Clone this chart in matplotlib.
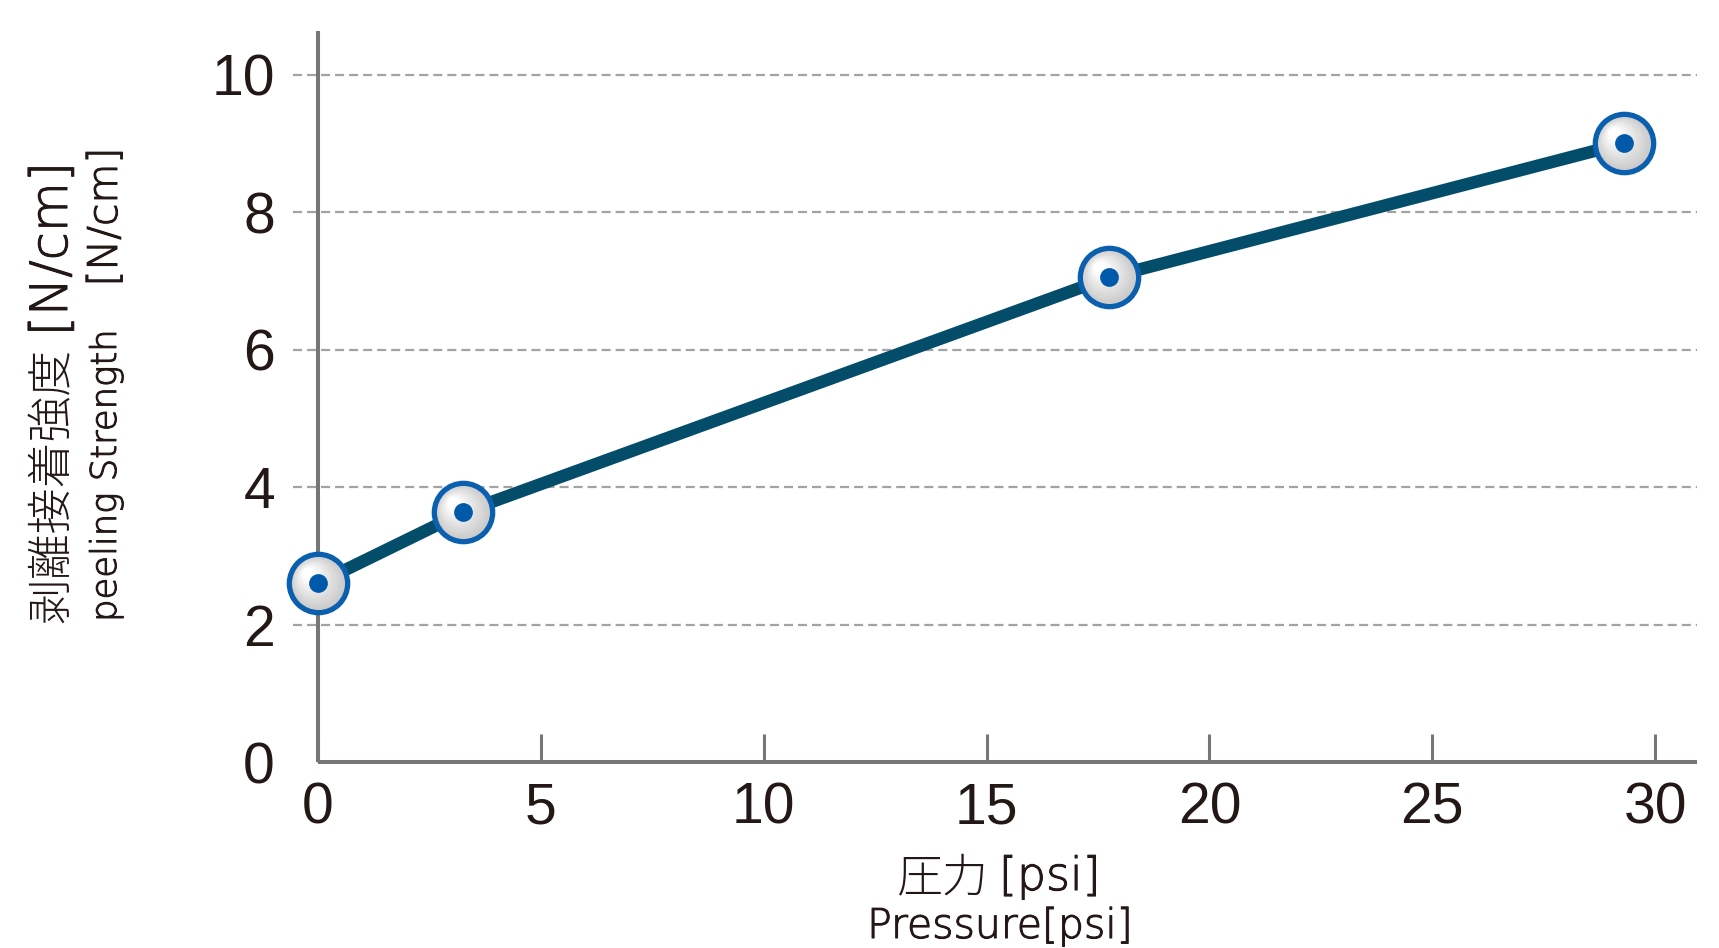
import matplotlib
matplotlib.use("Agg")
import matplotlib.pyplot as plt
import matplotlib.transforms as mtransforms
import matplotlib.patheffects as pe
import numpy as np

# ---- data ----
pressure_psi = [0, 3.25, 17.75, 29.3]
peel_strength = [2.6, 3.63, 7.05, 9.0]
x_ticks = [0, 5, 10, 15, 20, 25, 30]
y_ticks = [0, 2, 4, 6, 8, 10]
grid_levels = [2, 4, 6, 8, 10]
ylabel_jp = "剥離接着強度"
ylabel_en = "peeling Strength"
unit_y = "[N/cm]"
xlabel_jp = "圧力"
xlabel_en = "Pressure[psi]"
unit_x = "[psi]"

plt.rcParams['lines.scale_dashes'] = False

W, H = 1719, 948
fig = plt.figure(figsize=(W / 100, H / 100), dpi=100)
fig.patch.set_facecolor('white')

def fx(px):
    return px / W

def fy(py):
    return 1 - py / H

ax = fig.add_axes([fx(293), fy(762), fx(1697) - fx(293), fy(31) - fy(762)])
ax.set_xlim(-0.561, 30.94)
ax.set_ylim(0, 10.633)
ax.set_facecolor('none')

TXT = '#231815'
SPINE = '#767676'
LATIN = 'Liberation Sans'
WIDE = 'DejaVu Sans'
CJK = ['Noto Sans CJK JP', 'DejaVu Sans']
thin = [pe.withStroke(linewidth=0.75, foreground=TXT)]

# spines
for s in ['top', 'right']:
    ax.spines[s].set_visible(False)
ax.spines['left'].set_position(('data', 0))
ax.spines['left'].set_bounds(0, 10.633)
ax.spines['bottom'].set_bounds(0, 30.94)
for s in ['left', 'bottom']:
    ax.spines[s].set_color(SPINE)
    ax.spines[s].set_linewidth(2.9)
    ax.spines[s].set_capstyle('butt')

# grid
for g in grid_levels:
    ax.axhline(g, color='#a3a3a3', lw=1.6, dashes=(6.5, 3.6), zorder=1)

# ticks
ax.set_xticks(x_ticks)
ax.set_xticklabels([str(t) for t in x_ticks], fontfamily=LATIN, fontsize=41, color=TXT)
ax.set_yticks(y_ticks)
ax.set_yticklabels([str(t) for t in y_ticks], fontfamily=LATIN, fontsize=41, color=TXT)
ax.tick_params(axis='x', direction='in', length=20, width=2.2, color=SPINE, pad=14)
ax.tick_params(axis='y', length=0, pad=31)

# line
ax.plot(pressure_psi, peel_strength, color='#034d6b', lw=9, solid_capstyle='butt',
        solid_joinstyle='round', zorder=3, clip_on=False)

# markers with gradient fill (layered)
ms = 42
n = 16
c0 = np.array([0.78, 0.78, 0.78])
c1 = np.array([1.0, 1.0, 1.0])
for i in range(n):
    t = i / (n - 1)
    size = ms * (1 - 0.8 * t)
    off = (ms - size) / 2 * 0.6
    tr = mtransforms.offset_copy(ax.transData, fig=fig, x=-off / np.sqrt(2),
                                 y=off / np.sqrt(2), units='points')
    col = c0 + (c1 - c0) * t
    ax.plot(pressure_psi, peel_strength, ls='none', marker='o', ms=size,
            mfc=col, mec='none', transform=tr, zorder=4 + i * 0.01, clip_on=False)

ax.plot(pressure_psi, peel_strength, ls='none', marker='o', ms=ms, mfc='none',
        mec='#0a5fae', mew=3.8, zorder=5, clip_on=False)
ax.plot(pressure_psi, peel_strength, ls='none', marker='o', ms=13.5, mfc='#0059a9',
        mec='none', zorder=6, clip_on=False)

# y labels (rotated, two lines)
fig.text(fx(66), fy(623), ylabel_jp, rotation=90, rotation_mode='anchor',
         ha='left', va='baseline', fontsize=33, family=CJK, weight='light', color=TXT)
fig.text(fx(67), fy(249), unit_y, rotation=90, rotation_mode='anchor',
         ha='center', va='baseline', fontsize=37, family=WIDE, weight='light',
         color=TXT, path_effects=thin)
fig.text(fx(116), fy(622), ylabel_en, rotation=90, rotation_mode='anchor',
         ha='left', va='baseline', fontsize=25.5, family=WIDE, weight='light',
         color=TXT, path_effects=thin)
fig.text(fx(117), fy(217), unit_y, rotation=90, rotation_mode='anchor',
         ha='center', va='baseline', fontsize=29.5, family=WIDE, weight='light',
         color=TXT, path_effects=thin)

# x labels
fig.text(fx(989), fy(891), xlabel_jp, ha='right', va='baseline', fontsize=33,
         family=CJK, weight='light', color=TXT)
fig.text(fx(1050), fy(890), unit_x, ha='center', va='baseline', fontsize=33,
         family=WIDE, weight='light', color=TXT, path_effects=thin)
fig.text(fx(1000), fy(938), xlabel_en, ha='center', va='baseline', fontsize=29.5,
         family=WIDE, weight='light', color=TXT, path_effects=thin)

fig.savefig('out.png', dpi=100, facecolor='white')
